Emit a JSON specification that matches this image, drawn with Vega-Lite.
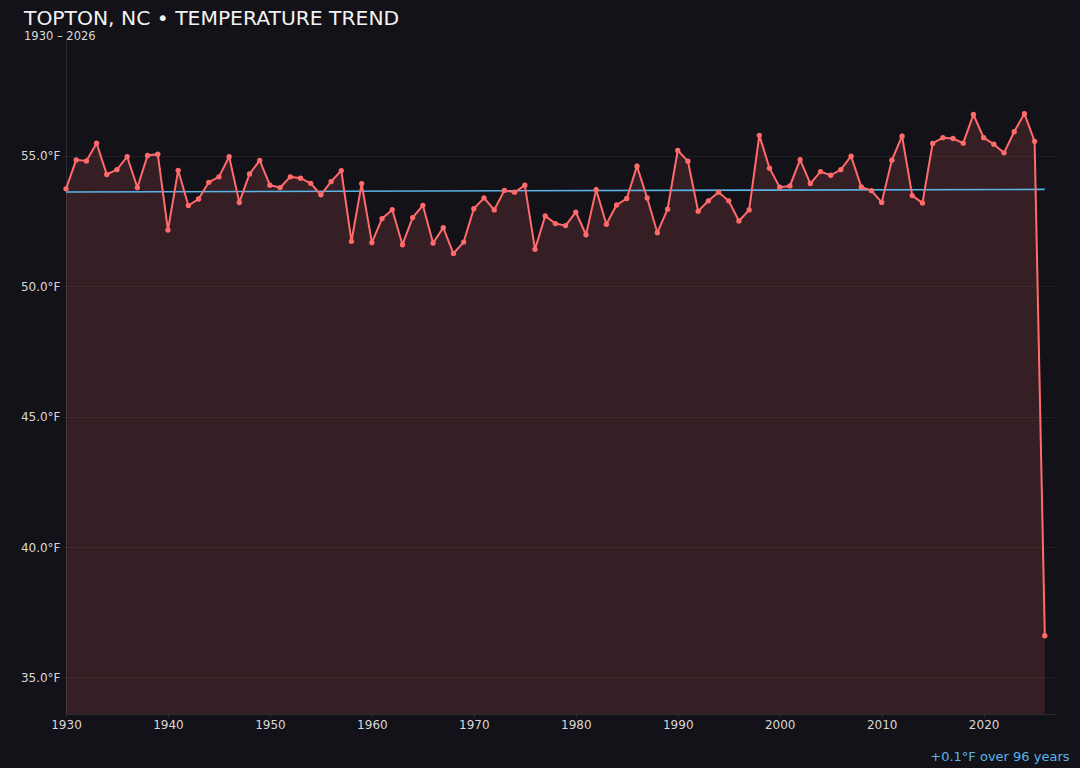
{
  "$schema": "https://vega.github.io/schema/vega-lite/v6.json",
  "width": 989,
  "height": 677,
  "autosize": {"type": "none"},
  "padding": {"left": 66, "top": 37, "right": 25, "bottom": 54},
  "background": "#131218",
  "title": {
    "text": "TOPTON, NC • TEMPERATURE TREND",
    "subtitle": "1930 – 2026",
    "anchor": "start",
    "frame": "group",
    "dx": -42,
    "offset": -5,
    "font": "DejaVu Sans",
    "fontSize": 20.3,
    "fontWeight": "normal",
    "color": "#f2f2f2",
    "subtitleFont": "DejaVu Sans",
    "subtitleFontSize": 11.5,
    "subtitleColor": "#d8d8d8",
    "subtitlePadding": 1
  },
  "config": {
    "view": {"stroke": null},
    "axis": {
      "labelFont": "DejaVu Sans",
      "labelFontSize": 12,
      "labelColor": "#d8d8d8",
      "labelFlush": false,
      "domainColor": "#2c2b33",
      "tickColor": "#2c2b33",
      "tickSize": 3,
      "gridColor": "#ffffff",
      "gridOpacity": 0.05
    }
  },
  "datasets": {
    "temps": [
      {"year": 1930, "temp": 53.73}, {"year": 1931, "temp": 54.84}, {"year": 1932, "temp": 54.80},
      {"year": 1933, "temp": 55.48}, {"year": 1934, "temp": 54.28}, {"year": 1935, "temp": 54.47},
      {"year": 1936, "temp": 54.96}, {"year": 1937, "temp": 53.78}, {"year": 1938, "temp": 55.01},
      {"year": 1939, "temp": 55.06}, {"year": 1940, "temp": 52.15}, {"year": 1941, "temp": 54.44},
      {"year": 1942, "temp": 53.09}, {"year": 1943, "temp": 53.34}, {"year": 1944, "temp": 53.98},
      {"year": 1945, "temp": 54.19}, {"year": 1946, "temp": 54.96}, {"year": 1947, "temp": 53.21},
      {"year": 1948, "temp": 54.30}, {"year": 1949, "temp": 54.82}, {"year": 1950, "temp": 53.87},
      {"year": 1951, "temp": 53.78}, {"year": 1952, "temp": 54.19}, {"year": 1953, "temp": 54.14},
      {"year": 1954, "temp": 53.94}, {"year": 1955, "temp": 53.50}, {"year": 1956, "temp": 54.01},
      {"year": 1957, "temp": 54.43}, {"year": 1958, "temp": 51.72}, {"year": 1959, "temp": 53.93},
      {"year": 1960, "temp": 51.67}, {"year": 1961, "temp": 52.59}, {"year": 1962, "temp": 52.93},
      {"year": 1963, "temp": 51.59}, {"year": 1964, "temp": 52.63}, {"year": 1965, "temp": 53.10},
      {"year": 1966, "temp": 51.65}, {"year": 1967, "temp": 52.24}, {"year": 1968, "temp": 51.25},
      {"year": 1969, "temp": 51.69}, {"year": 1970, "temp": 52.97}, {"year": 1971, "temp": 53.38},
      {"year": 1972, "temp": 52.92}, {"year": 1973, "temp": 53.67}, {"year": 1974, "temp": 53.60},
      {"year": 1975, "temp": 53.87}, {"year": 1976, "temp": 51.41}, {"year": 1977, "temp": 52.69},
      {"year": 1978, "temp": 52.40}, {"year": 1979, "temp": 52.32}, {"year": 1980, "temp": 52.84},
      {"year": 1981, "temp": 51.97}, {"year": 1982, "temp": 53.70}, {"year": 1983, "temp": 52.37},
      {"year": 1984, "temp": 53.11}, {"year": 1985, "temp": 53.36}, {"year": 1986, "temp": 54.60},
      {"year": 1987, "temp": 53.38}, {"year": 1988, "temp": 52.05}, {"year": 1989, "temp": 52.95},
      {"year": 1990, "temp": 55.20}, {"year": 1991, "temp": 54.79}, {"year": 1992, "temp": 52.87},
      {"year": 1993, "temp": 53.27}, {"year": 1994, "temp": 53.60}, {"year": 1995, "temp": 53.27},
      {"year": 1996, "temp": 52.50}, {"year": 1997, "temp": 52.92}, {"year": 1998, "temp": 55.78},
      {"year": 1999, "temp": 54.52}, {"year": 2000, "temp": 53.79}, {"year": 2001, "temp": 53.84},
      {"year": 2002, "temp": 54.85}, {"year": 2003, "temp": 53.93}, {"year": 2004, "temp": 54.39},
      {"year": 2005, "temp": 54.25}, {"year": 2006, "temp": 54.47}, {"year": 2007, "temp": 54.98},
      {"year": 2008, "temp": 53.80}, {"year": 2009, "temp": 53.66}, {"year": 2010, "temp": 53.21},
      {"year": 2011, "temp": 54.83}, {"year": 2012, "temp": 55.75}, {"year": 2013, "temp": 53.47},
      {"year": 2014, "temp": 53.19}, {"year": 2015, "temp": 55.47}, {"year": 2016, "temp": 55.69},
      {"year": 2017, "temp": 55.66}, {"year": 2018, "temp": 55.48}, {"year": 2019, "temp": 56.58},
      {"year": 2020, "temp": 55.69}, {"year": 2021, "temp": 55.44}, {"year": 2022, "temp": 55.11},
      {"year": 2023, "temp": 55.92}, {"year": 2024, "temp": 56.61}, {"year": 2025, "temp": 55.55},
      {"year": 2026, "temp": 36.60}
    ],
    "trend": [
      {"year": 1930, "temp": 53.61},
      {"year": 2026, "temp": 53.71}
    ]
  },
  "encoding": {
    "x": {
      "field": "year",
      "type": "quantitative",
      "scale": {"domain": [1930, 2027], "nice": false, "zero": false},
      "axis": {
        "values": [1930, 1940, 1950, 1960, 1970, 1980, 1990, 2000, 2010, 2020],
        "format": "d",
        "grid": false,
        "labelPadding": 2,
        "title": "+0.1°F over 96 years",
        "titleFont": "DejaVu Sans",
        "titleFontSize": 13,
        "titleFontWeight": "normal",
        "titleColor": "#5ab4e6",
        "titleAnchor": "end",
        "titleAlign": "right",
        "titleBaseline": "alphabetic",
        "titleX": 1003,
        "titleY": 46
      }
    },
    "y": {
      "field": "temp",
      "type": "quantitative",
      "scale": {"domain": [33.6, 59.55], "nice": false, "zero": false},
      "axis": {
        "values": [35, 40, 45, 50, 55],
        "labelExpr": "format(datum.value, '.1f') + '°F'",
        "title": null,
        "labelPadding": 3
      }
    }
  },
  "layer": [
    {
      "data": {"name": "temps"},
      "mark": {"type": "area", "color": "#ff6b6b", "opacity": 0.15},
      "encoding": {"y2": {"datum": 33.6}}
    },
    {
      "data": {"name": "trend"},
      "mark": {"type": "line", "color": "#5ab4e6", "strokeWidth": 1.6}
    },
    {
      "data": {"name": "temps"},
      "mark": {
        "type": "line",
        "color": "#ff6b6b",
        "strokeWidth": 2,
        "point": {"filled": true, "size": 28, "color": "#ff6b6b"}
      }
    }
  ]
}
